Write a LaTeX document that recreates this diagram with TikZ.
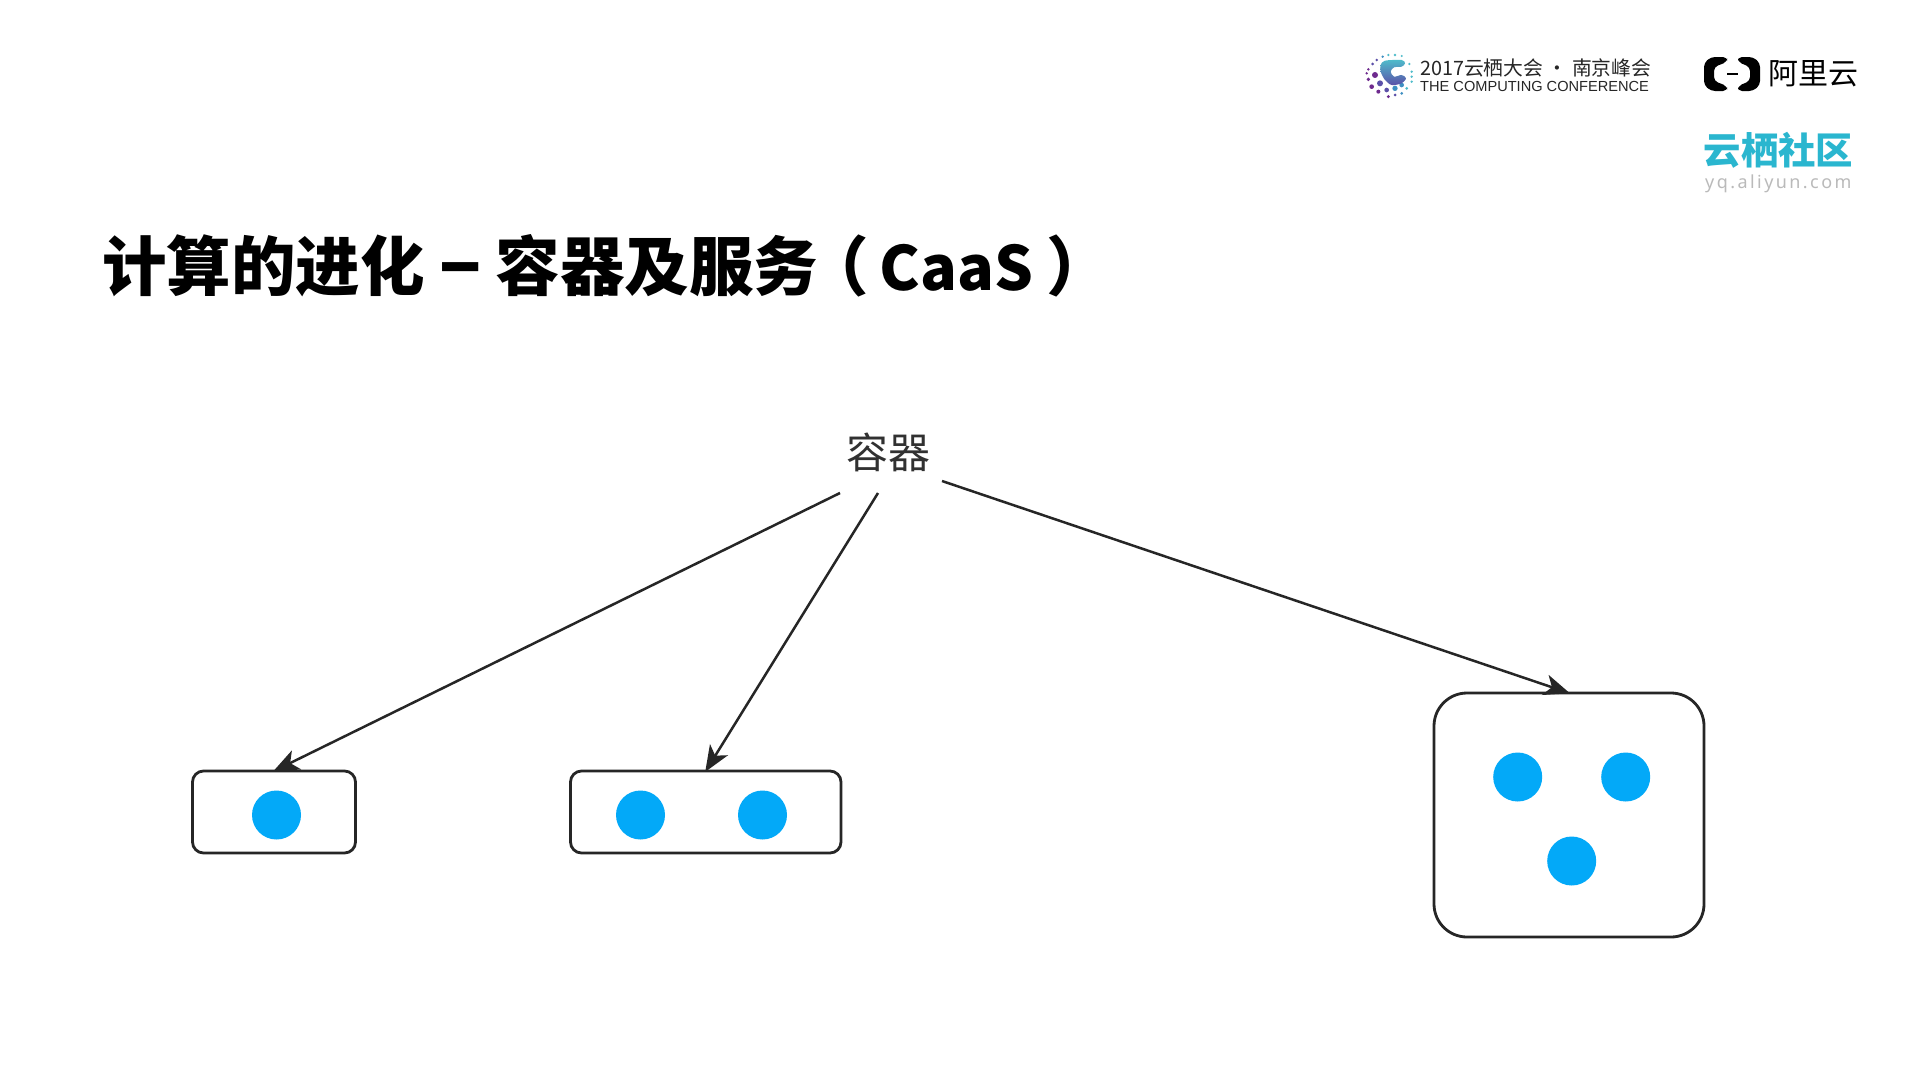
\documentclass[tikz,border=0pt]{standalone}
\usepackage{fontspec}
\setmainfont{Noto Sans CJK SC}
\newfontfamily\latinsans{Liberation Sans}
\newfontfamily\spaced[LetterSpace=13.5]{Noto Sans}
\usetikzlibrary{arrows.meta}
\definecolor{dotblue}{HTML}{03A9F8}
\definecolor{ink}{HTML}{262626}
\definecolor{teal}{HTML}{2AB6CF}
\definecolor{lgA}{HTML}{4FBCCB}
\definecolor{lgB}{HTML}{3E8FC2}
\definecolor{lgC}{HTML}{5B4FA8}
\definecolor{lgD}{HTML}{6E2A8E}
\tikzset{
  box/.style={draw=ink,line width=2.8pt,fill=white,inner sep=0pt,outer sep=0pt,anchor=north west},
  dot/.style={circle,fill=dotblue,inner sep=0pt,outer sep=0pt,minimum size=49pt},
  conn/.style={draw=ink,line width=2.5pt,-{Stealth[length=26pt,width=21pt,inset=7pt,color=ink]},shorten >=-1pt},
}
\begin{document}
\begin{tikzpicture}[x=1pt,y=-1pt]
\useasboundingbox (0,0) rectangle (1919,1079);
\fill[white] (0,0) rectangle (1919,1079);
% title
\node[inner sep=0pt,anchor=west,font=\fontsize{64.5}{64}\selectfont\bfseries,text=black] (title) at (102,266) {计算的进化\kern14pt\scalebox{1.25}[1.25]{–}\kern13pt 容器及服务\kern-14pt（\kern-3.5pt{\fontsize{61}{61}\selectfont\ CaaS\ }\kern0pt）};
% source
\node[inner sep=0pt,font=\fontsize{42}{42}\selectfont,text=ink!95] (src) at (888,452) {容器};
\coordinate (s1) at (840,493);
\coordinate (s2) at (878,493);
\coordinate (s3) at (942,481);
% boxes
\node[box,rounded corners=11pt,minimum width=163pt,minimum height=82pt] (b1) at (192.5,771) {};
\node[box,rounded corners=11pt,minimum width=270.5pt,minimum height=82pt] (b2) at (570.5,771) {};
\node[box,rounded corners=33pt,minimum width=270pt,minimum height=244pt] (b3) at (1434,693) {};
\node[dot] (d1) at (276.5,815) {};
\node[dot] (d2) at (640.5,815) {};
\node[dot] (d3) at (762.5,815) {};
\node[dot] (d4) at (1517.7,777) {};
\node[dot] (d5) at (1625.7,777) {};
\node[dot] (d6) at (1571.7,861) {};
\draw[conn] (s1) -- (b1.north);
\draw[conn] (s2) -- (b2.north);
\draw[conn] (s3) -- (b3.north);
% conference logo
\begin{scope}[shift={(1360,40)},x=0.3333pt,y=-0.3333pt]
\foreach \px/\py/\s/\c in {
 85/45/4/lgA,105/45/4/lgA,125/48/3.5/lgA,68/50/4/lgB,50/60/4/lgC,38/72/4.5/lgC,25/88/4/lgD,20/100/4/lgD,
 45/105/9/lgD,25/118/5.5/lgD,35/140/7/lgD,60/130/9/lgC,55/155/6/lgD,80/150/7/lgC,105/145/8/lgB,125/135/7/lgB,
 85/170/5/lgD,105/165/4.5/lgC,125/160/4.5/lgB,140/145/4.5/lgA,155/125/4/lgA,155/110/4/lgA,155/95/4/lgA,148/72/4/lgA}
  \fill[\c] (\px,\py) circle (\s);
\shade[top color=lgA,bottom color=lgC,draw=none] plot[smooth cycle] coordinates {(62,75) (75,62) (125,60) (135,70) (125,80) (102,82) (92,95) (102,110) (125,105) (138,115) (125,130) (95,135) (75,120) (62,95)};
\end{scope}
% conference text
\node[inner sep=0pt,anchor=west,font=\fontsize{19.8}{20}\selectfont,text=ink] (conf1) at (1420,68) {2017云栖大会 · 南京峰会};
\node[inner sep=0pt,anchor=west,font=\latinsans\fontsize{14.6}{14}\selectfont,text=ink] (conf2) at (1420,86) {THE COMPUTING CONFERENCE};
% aliyun logo
\fill[black,rounded corners=4pt] (1727,57) -- (1711,57) -- (1704,63) -- (1704,85) -- (1711,91) -- (1727,91) -- (1727,86) -- (1714,81) -- (1714,67) -- (1727,62) -- cycle;
\fill[black,rounded corners=4pt] (1738,57) -- (1753,57) -- (1760,63) -- (1760,85) -- (1753,91) -- (1738,91) -- (1738,86) -- (1750,81) -- (1750,67) -- (1738,62) -- cycle;
\draw[black,line width=1.6pt] (1727,74) -- (1738,74);
\node[inner sep=0pt,anchor=west,font=\fontsize{30}{30}\selectfont,text=black] (ali) at (1768,73.5) {阿里云};
% yunqi
\node[inner sep=0pt,anchor=west,font=\fontsize{37.4}{37}\selectfont\bfseries,text=teal] (yq) at (1703.5,150.5) {云栖社区};
\node[inner sep=0pt,anchor=west,font=\spaced\fontsize{18}{18}\selectfont,text=black!27] (url) at (1705,183.5) {yq.aliyun.com};
\end{tikzpicture}
\end{document}
